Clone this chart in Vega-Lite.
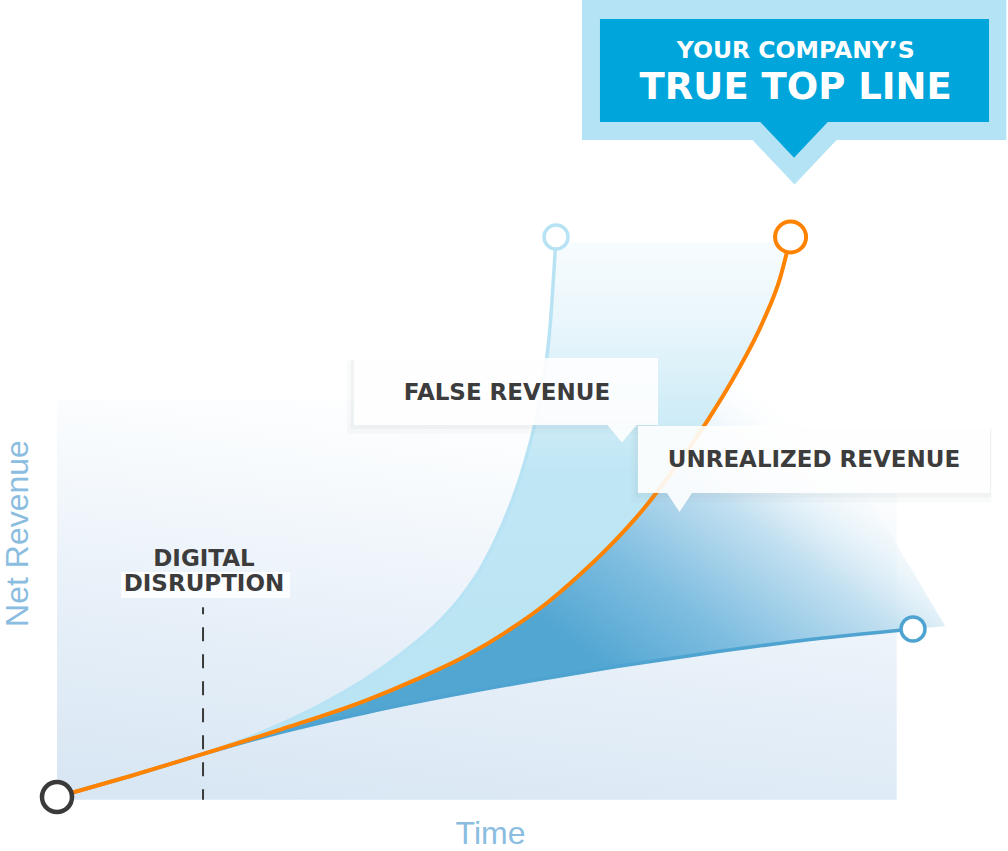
{
  "$schema": "https://vega.github.io/schema/vega-lite/v6.json",
  "width": 856,
  "height": 560,
  "autosize": {"type": "none"},
  "padding": {"left": 57, "top": 237, "right": 95, "bottom": 54},
  "background": "#ffffff",
  "config": {
    "view": {"stroke": null},
    "axis": {"domain": false, "ticks": false, "labels": false, "grid": false, "titleFont": "Liberation Sans", "titleFontSize": 32, "titleFontWeight": "normal", "titleColor": "#8abde0"},
    "axisX": {"titleX": 433, "titleY": 46, "titleAlign": "center", "titleBaseline": "alphabetic", "titleAnchor": null},
    "axisY": {"titleX": -30, "titleY": 296, "titleAngle": 270, "titleAlign": "center", "titleBaseline": "alphabetic", "titleAnchor": null}
  },
  "datasets": {
    "curves": [
      {"series": "true", "t": 0, "rev": 0}, {"series": "true", "t": 8.5, "rev": 3.7}, {"series": "true", "t": 17.1, "rev": 7.7}, {"series": "true", "t": 26, "rev": 12.0}, {"series": "true", "t": 36.2, "rev": 17.3}, {"series": "true", "t": 42, "rev": 21.0}, {"series": "true", "t": 47.9, "rev": 25.3}, {"series": "true", "t": 52.5, "rev": 29.5}, {"series": "true", "t": 57.2, "rev": 34.6}, {"series": "true", "t": 61, "rev": 39.6}, {"series": "true", "t": 64.3, "rev": 44.4}, {"series": "true", "t": 68.5, "rev": 51.4}, {"series": "true", "t": 72, "rev": 58.4}, {"series": "true", "t": 75.9, "rev": 67.0}, {"series": "true", "t": 79.4, "rev": 75.8}, {"series": "true", "t": 82.5, "rev": 85.0}, {"series": "true", "t": 84.5, "rev": 92.8}, {"series": "true", "t": 85.7, "rev": 100},
      {"series": "false", "t": 0, "rev": 0}, {"series": "false", "t": 8.5, "rev": 3.7}, {"series": "false", "t": 17.1, "rev": 7.7}, {"series": "false", "t": 21.4, "rev": 10.0}, {"series": "false", "t": 25.7, "rev": 12.7}, {"series": "false", "t": 30.5, "rev": 16.2}, {"series": "false", "t": 36.2, "rev": 21.2}, {"series": "false", "t": 40, "rev": 25.3}, {"series": "false", "t": 43.9, "rev": 30.2}, {"series": "false", "t": 47, "rev": 35.3}, {"series": "false", "t": 49.8, "rev": 41.6}, {"series": "false", "t": 52, "rev": 48.5}, {"series": "false", "t": 54.3, "rev": 58.0}, {"series": "false", "t": 56.4, "rev": 71.0}, {"series": "false", "t": 57.6, "rev": 84.0}, {"series": "false", "t": 58.3, "rev": 100},
      {"series": "actual", "t": 0, "rev": 0}, {"series": "actual", "t": 8.5, "rev": 3.7}, {"series": "actual", "t": 17.1, "rev": 7.7}, {"series": "actual", "t": 24.5, "rev": 10.9}, {"series": "actual", "t": 36.2, "rev": 15.1}, {"series": "actual", "t": 45.9, "rev": 18.1}, {"series": "actual", "t": 55.6, "rev": 20.8}, {"series": "actual", "t": 65.4, "rev": 23.3}, {"series": "actual", "t": 75.1, "rev": 25.5}, {"series": "actual", "t": 86.8, "rev": 27.9}, {"series": "actual", "t": 100, "rev": 30}
    ],
    "falseBand": [
      {"t": 17.1, "hi": 7.7, "lo": 7.7}, {"t": 21.4, "hi": 10.0, "lo": 9.8}, {"t": 25.7, "hi": 12.7, "lo": 11.85}, {"t": 30.5, "hi": 16.2, "lo": 14.34}, {"t": 36.2, "hi": 21.2, "lo": 17.3}, {"t": 40, "hi": 25.3, "lo": 19.72}, {"t": 43.9, "hi": 30.2, "lo": 22.38}, {"t": 47, "hi": 35.3, "lo": 24.64}, {"t": 49.8, "hi": 41.6, "lo": 27.03}, {"t": 52, "hi": 48.5, "lo": 29.04}, {"t": 54.3, "hi": 58.0, "lo": 31.45}, {"t": 56.4, "hi": 71.0, "lo": 33.73}, {"t": 57.6, "hi": 84.0, "lo": 35.13}, {"t": 58.3, "hi": 99, "lo": 36.05}, {"t": 61, "hi": 99, "lo": 39.6}, {"t": 64.3, "hi": 99, "lo": 44.4}, {"t": 68.5, "hi": 99, "lo": 51.4}, {"t": 72, "hi": 99, "lo": 58.4}, {"t": 75.9, "hi": 99, "lo": 67.0}, {"t": 79.4, "hi": 99, "lo": 75.8}, {"t": 82.5, "hi": 99, "lo": 85.0}, {"t": 84.5, "hi": 99, "lo": 92.8}, {"t": 85.7, "hi": 99, "lo": 99}
    ],
    "darkBand": [
      {"t": 17.1, "hi": 7.7, "lo": 7.7}, {"t": 21.4, "hi": 9.8, "lo": 9.56}, {"t": 24.5, "hi": 11.28, "lo": 10.9}, {"t": 30, "hi": 14.08, "lo": 12.87}, {"t": 36.2, "hi": 17.3, "lo": 15.1}, {"t": 42, "hi": 21.0, "lo": 16.89}, {"t": 47.9, "hi": 25.3, "lo": 18.66}, {"t": 52.5, "hi": 29.5, "lo": 19.94}, {"t": 57.2, "hi": 34.6, "lo": 21.21}, {"t": 61, "hi": 39.6, "lo": 22.18}, {"t": 64.3, "hi": 44.4, "lo": 23.07}, {"t": 68.5, "hi": 51.4, "lo": 24.0}, {"t": 72, "hi": 58.4, "lo": 24.8}, {"t": 75.9, "hi": 67.0, "lo": 25.66}, {"t": 79.4, "hi": 75.8, "lo": 26.38}, {"t": 82.5, "hi": 85.0, "lo": 27.02}, {"t": 86.8, "hi": 74.0, "lo": 27.9}, {"t": 95, "hi": 53.0, "lo": 29.2}, {"t": 100, "hi": 40.2, "lo": 30.0}, {"t": 103.7, "hi": 30.7, "lo": 30.5}
    ],
    "ends": [
      {"series": "start", "t": 0, "rev": 0},
      {"series": "false", "t": 58.3, "rev": 100},
      {"series": "true", "t": 85.7, "rev": 100},
      {"series": "actual", "t": 100, "rev": 30}
    ]
  },
  "layer": [
    {
      "data": {"values": [{"t": 0, "t2": 98.1, "top": 70.9, "bottom": -0.5}]},
      "mark": {"type": "rect", "fill": {"gradient": "linear", "x1": 0.3, "y1": 1, "x2": 0.55, "y2": 0, "stops": [{"offset": 0, "color": "#d9e7f4"}, {"offset": 0.45, "color": "#e9f1f9"}, {"offset": 0.8, "color": "#f8fbfd"}, {"offset": 1, "color": "#ffffff"}]}},
      "encoding": {
        "x": {"field": "t", "type": "quantitative", "title": "Time", "scale": {"domain": [0, 100], "nice": false, "zero": false}},
        "x2": {"field": "t2"},
        "y": {"field": "top", "type": "quantitative", "title": "Net Revenue", "scale": {"domain": [0, 100], "nice": false, "zero": false}},
        "y2": {"field": "bottom"}
      }
    },
    {
      "data": {"name": "falseBand"},
      "mark": {"type": "area", "interpolate": "monotone", "fill": {"gradient": "linear", "x1": 0, "y1": 0, "x2": 0, "y2": 1, "stops": [{"offset": 0, "color": "#f7fcfe"}, {"offset": 0.16, "color": "#e9f6fb"}, {"offset": 0.3, "color": "#d4eef8"}, {"offset": 0.45, "color": "#bfe6f4"}, {"offset": 1, "color": "#b9e4f3"}]}},
      "encoding": {
        "x": {"field": "t", "type": "quantitative", "title": "Time"},
        "y": {"field": "hi", "type": "quantitative", "title": "Net Revenue"},
        "y2": {"field": "lo"}
      }
    },
    {
      "data": {"name": "darkBand"},
      "mark": {"type": "area", "interpolate": "monotone", "fill": {"gradient": "linear", "x1": 0.5, "y1": 0.75, "x2": 0.95, "y2": 0.4, "stops": [{"offset": 0, "color": "#52a6d2"}, {"offset": 0.3, "color": "#7ebde0"}, {"offset": 0.65, "color": "#c4e1f1"}, {"offset": 1, "color": "rgba(255,255,255,0)"}]}},
      "encoding": {
        "x": {"field": "t", "type": "quantitative", "title": "Time"},
        "y": {"field": "hi", "type": "quantitative", "title": "Net Revenue"},
        "y2": {"field": "lo"}
      }
    },
    {
      "data": {"name": "curves"},
      "transform": [{"filter": "datum.series === 'false'"}],
      "mark": {"type": "line", "interpolate": "monotone", "color": "#b8e3f4", "strokeWidth": 3.5},
      "encoding": {
        "x": {"field": "t", "type": "quantitative", "title": "Time"},
        "y": {"field": "rev", "type": "quantitative", "title": "Net Revenue"}
      }
    },
    {
      "data": {"name": "curves"},
      "transform": [{"filter": "datum.series === 'actual'"}],
      "mark": {"type": "line", "interpolate": "monotone", "color": "#4ea3d1", "strokeWidth": 3.5},
      "encoding": {
        "x": {"field": "t", "type": "quantitative", "title": "Time"},
        "y": {"field": "rev", "type": "quantitative", "title": "Net Revenue"}
      }
    },
    {
      "data": {"name": "curves"},
      "transform": [{"filter": "datum.series === 'true'"}],
      "mark": {"type": "line", "interpolate": "monotone", "color": "#ff8300", "strokeWidth": 4},
      "encoding": {
        "x": {"field": "t", "type": "quantitative", "title": "Time"},
        "y": {"field": "rev", "type": "quantitative", "title": "Net Revenue"}
      }
    },
    {
      "data": {"values": [{"t": 17.06, "top": 33.9, "bottom": -0.5}]},
      "mark": {"type": "rule", "color": "#3a3a3a", "strokeWidth": 2, "strokeDash": [14, 13], "strokeDashOffset": 7},
      "encoding": {
        "x": {"field": "t", "type": "quantitative", "title": "Time"},
        "y": {"field": "top", "type": "quantitative", "title": "Net Revenue"},
        "y2": {"field": "bottom"}
      }
    },
    {
      "data": {"values": [{"t": 7.48, "t2": 27.22, "top": 40.18, "bottom": 35.54}]},
      "mark": {"type": "rect", "color": "#ffffff", "opacity": 0.85},
      "encoding": {
        "x": {"field": "t", "type": "quantitative", "title": "Time"},
        "x2": {"field": "t2"},
        "y": {"field": "top", "type": "quantitative", "title": "Net Revenue"},
        "y2": {"field": "bottom"}
      }
    },
    {
      "data": {"values": [{"label": "DIGITAL", "t": 17.17, "rev": 41.25}, {"label": "DISRUPTION", "t": 17.17, "rev": 36.79}]},
      "mark": {"type": "text", "font": "DejaVu Sans", "fontWeight": "bold", "fontSize": 23, "color": "#3c3c3c", "align": "center", "baseline": "alphabetic"},
      "encoding": {
        "x": {"field": "t", "type": "quantitative", "title": "Time"},
        "y": {"field": "rev", "type": "quantitative", "title": "Net Revenue"},
        "text": {"field": "label"}
      }
    },
    {
      "data": {"values": [{"t": 33.9, "t2": 70.0, "top": 77.9, "bottom": 64.8}, {"t": 67.1, "t2": 109.2, "top": 65.8, "bottom": 52.6}]},
      "mark": {"type": "rect", "color": "#8c98a6", "opacity": 0.05},
      "encoding": {
        "x": {"field": "t", "type": "quantitative", "title": "Time"},
        "x2": {"field": "t2"},
        "y": {"field": "top", "type": "quantitative", "title": "Net Revenue"},
        "y2": {"field": "bottom"}
      }
    },
    {
      "data": {"values": [{"t": 34.3, "t2": 70.1, "top": 78.1, "bottom": 65.7}, {"t": 67.5, "t2": 109.1, "top": 66.0, "bottom": 53.5}]},
      "mark": {"type": "rect", "color": "#8c98a6", "opacity": 0.07},
      "encoding": {
        "x": {"field": "t", "type": "quantitative", "title": "Time"},
        "x2": {"field": "t2"},
        "y": {"field": "top", "type": "quantitative", "title": "Net Revenue"},
        "y2": {"field": "bottom"}
      }
    },
    {
      "data": {"values": [{"t": 34.70, "t2": 70.21, "top": 78.39, "bottom": 66.43}, {"t": 67.87, "t2": 108.99, "top": 66.25, "bottom": 54.29}]},
      "mark": {"type": "rect", "color": "#ffffff", "opacity": 0.9},
      "encoding": {
        "x": {"field": "t", "type": "quantitative", "title": "Time"},
        "x2": {"field": "t2"},
        "y": {"field": "top", "type": "quantitative", "title": "Net Revenue"},
        "y2": {"field": "bottom"}
      }
    },
    {
      "data": {"values": [{"t": 66.0, "rev": 64.91}]},
      "mark": {"type": "point", "shape": "M-1,-0.6L1,-0.6L0,0.6Z", "size": 900, "filled": true, "color": "#ffffff", "opacity": 0.9, "strokeWidth": 0},
      "encoding": {
        "x": {"field": "t", "type": "quantitative", "title": "Time"},
        "y": {"field": "rev", "type": "quantitative", "title": "Net Revenue"}
      }
    },
    {
      "data": {"values": [{"t": 72.72, "rev": 52.59}]},
      "mark": {"type": "point", "shape": "M-1,-0.76L1,-0.76L0,0.76Z", "size": 625, "filled": true, "color": "#ffffff", "opacity": 0.9, "strokeWidth": 0},
      "encoding": {
        "x": {"field": "t", "type": "quantitative", "title": "Time"},
        "y": {"field": "rev", "type": "quantitative", "title": "Net Revenue"}
      }
    },
    {
      "data": {"values": [{"label": "FALSE REVENUE", "t": 52.57, "rev": 70.89}, {"label": "UNREALIZED REVENUE", "t": 88.43, "rev": 58.93}]},
      "mark": {"type": "text", "font": "DejaVu Sans", "fontWeight": "bold", "fontSize": 23, "color": "#3c3c3c", "align": "center", "baseline": "alphabetic"},
      "encoding": {
        "x": {"field": "t", "type": "quantitative", "title": "Time"},
        "y": {"field": "rev", "type": "quantitative", "title": "Net Revenue"},
        "text": {"field": "label"}
      }
    },
    {
      "data": {"name": "ends"},
      "transform": [{"filter": "datum.series === 'start'"}],
      "mark": {"type": "point", "filled": false, "fill": "#ffffff", "fillOpacity": 1, "stroke": "#3a3a3a", "strokeWidth": 4.5, "size": 900, "opacity": 1},
      "encoding": {
        "x": {"field": "t", "type": "quantitative", "title": "Time"},
        "y": {"field": "rev", "type": "quantitative", "title": "Net Revenue"}
      }
    },
    {
      "data": {"name": "ends"},
      "transform": [{"filter": "datum.series === 'false'"}],
      "mark": {"type": "point", "filled": false, "fill": "#ffffff", "fillOpacity": 1, "stroke": "#b8e3f4", "strokeWidth": 3.5, "size": 576, "opacity": 1},
      "encoding": {
        "x": {"field": "t", "type": "quantitative", "title": "Time"},
        "y": {"field": "rev", "type": "quantitative", "title": "Net Revenue"}
      }
    },
    {
      "data": {"name": "ends"},
      "transform": [{"filter": "datum.series === 'true'"}],
      "mark": {"type": "point", "filled": false, "fill": "#ffffff", "fillOpacity": 1, "stroke": "#ff8300", "strokeWidth": 4, "size": 961, "opacity": 1},
      "encoding": {
        "x": {"field": "t", "type": "quantitative", "title": "Time"},
        "y": {"field": "rev", "type": "quantitative", "title": "Net Revenue"}
      }
    },
    {
      "data": {"name": "ends"},
      "transform": [{"filter": "datum.series === 'actual'"}],
      "mark": {"type": "point", "filled": false, "fill": "#ffffff", "fillOpacity": 1, "stroke": "#4ea3d1", "strokeWidth": 3.5, "size": 576, "opacity": 1},
      "encoding": {
        "x": {"field": "t", "type": "quantitative", "title": "Time"},
        "y": {"field": "rev", "type": "quantitative", "title": "Net Revenue"}
      }
    },
    {
      "data": {"values": [{"t": 61.33, "t2": 110.9, "top": 142.32, "bottom": 117.32}]},
      "mark": {"type": "rect", "color": "#b3e3f5"},
      "encoding": {
        "x": {"field": "t", "type": "quantitative", "title": "Time"},
        "x2": {"field": "t2"},
        "y": {"field": "top", "type": "quantitative", "title": "Net Revenue"},
        "y2": {"field": "bottom"}
      }
    },
    {
      "data": {"values": [{"t": 86.16, "rev": 113.38}]},
      "mark": {"type": "point", "shape": "M-1,-0.53L1,-0.53L0,0.53Z", "size": 7225, "filled": true, "color": "#b3e3f5", "opacity": 1, "strokeWidth": 0},
      "encoding": {
        "x": {"field": "t", "type": "quantitative", "title": "Time"},
        "y": {"field": "rev", "type": "quantitative", "title": "Net Revenue"}
      }
    },
    {
      "data": {"values": [{"t": 63.43, "t2": 108.88, "top": 138.93, "bottom": 120.54}]},
      "mark": {"type": "rect", "color": "#00a6db"},
      "encoding": {
        "x": {"field": "t", "type": "quantitative", "title": "Time"},
        "x2": {"field": "t2"},
        "y": {"field": "top", "type": "quantitative", "title": "Net Revenue"},
        "y2": {"field": "bottom"}
      }
    },
    {
      "data": {"values": [{"t": 86.10, "rev": 117.38}]},
      "mark": {"type": "point", "shape": "M-1,-0.53L1,-0.53L0,0.53Z", "size": 4624, "filled": true, "color": "#00a6db", "opacity": 1, "strokeWidth": 0},
      "encoding": {
        "x": {"field": "t", "type": "quantitative", "title": "Time"},
        "y": {"field": "rev", "type": "quantitative", "title": "Net Revenue"}
      }
    },
    {
      "data": {"values": [{"label": "YOUR COMPANY’S", "t": 86.3, "rev": 131.96}]},
      "mark": {"type": "text", "font": "DejaVu Sans", "fontWeight": "bold", "fontSize": 23.5, "color": "#ffffff", "align": "center", "baseline": "alphabetic"},
      "encoding": {
        "x": {"field": "t", "type": "quantitative", "title": "Time"},
        "y": {"field": "rev", "type": "quantitative", "title": "Net Revenue"},
        "text": {"field": "label"}
      }
    },
    {
      "data": {"values": [{"label": "TRUE TOP LINE", "t": 86.3, "rev": 124.64}]},
      "mark": {"type": "text", "font": "DejaVu Sans", "fontWeight": "bold", "fontSize": 37, "color": "#ffffff", "align": "center", "baseline": "alphabetic"},
      "encoding": {
        "x": {"field": "t", "type": "quantitative", "title": "Time"},
        "y": {"field": "rev", "type": "quantitative", "title": "Net Revenue"},
        "text": {"field": "label"}
      }
    }
  ]
}
